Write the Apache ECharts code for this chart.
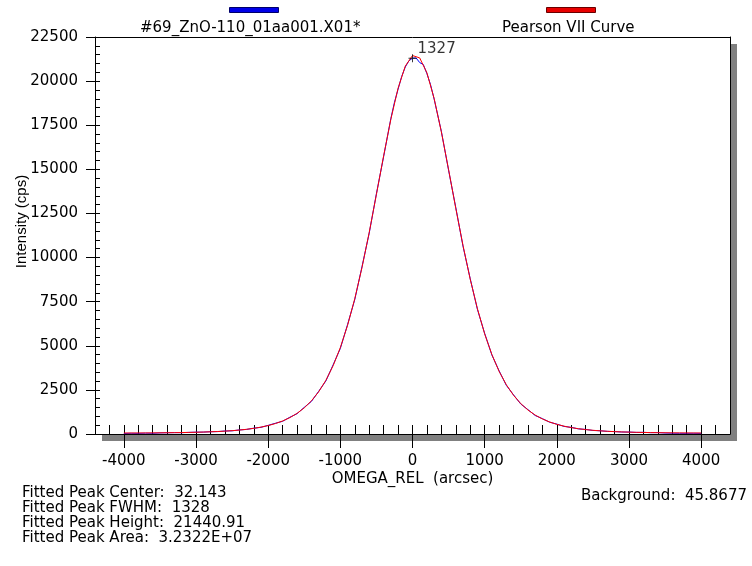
<!DOCTYPE html>
<html>
<head>
<meta charset="utf-8">
<script src="https://cdn.jsdelivr.net/npm/echarts@6/dist/echarts.min.js"></script>
<style>
  html, body { margin: 0; padding: 0; background: #fff; }
  #chart { width: 752px; height: 566px; }
</style>
</head>
<body>
<div id="chart"></div>
<script>
// Rocking-curve scan and its Pearson VII fit
const scanName = '#69_ZnO-110_01aa001.X01*';
const fitName = 'Pearson VII Curve';

const scanOmega = [
  -4000, -3900, -3800, -3700, -3600, -3500, -3400, -3300, -3200, -3100,
  -3000, -2900, -2800, -2700, -2600, -2500, -2400, -2300, -2200, -2100,
  -2000, -1900, -1800, -1700, -1600, -1500, -1400, -1300, -1200, -1100,
  -1000, -900, -800, -700, -600, -500, -400,
  -300, -250, -200, -150, -100, -50, 0, 50, 100, 150, 200, 250, 300,
  400, 500, 600, 700, 800, 900, 1000, 1100, 1200, 1300,
  1400, 1500, 1600, 1700, 1800, 1900, 2000, 2100, 2200, 2300,
  2400, 2500, 2600, 2700, 2800, 2900, 3000, 3100, 3200, 3300,
  3400, 3500, 3600, 3700, 3800, 3900, 4000
];
const scanIntensity = [
  30, 42, 35, 48, 40, 62, 70, 78, 75, 92,
  104, 108, 130, 136, 170, 180, 230, 258, 330, 378,
  490, 610, 720, 950, 1150, 1510, 1850, 2420, 3010, 3920,
  4850, 6200, 7620, 9480, 11380, 13620, 15720,
  17880, 18800, 19540, 20260, 20800, 21150, 21300, 21310, 21050, 20940, 20420, 19800, 18980,
  17150, 14950, 12830, 10640, 8800, 7060, 5700, 4480, 3580, 2760,
  2220, 1700, 1380, 1050, 870, 670, 560, 430, 375, 290,
  260, 200, 185, 148, 138, 112, 110, 90, 95, 76,
  80, 55, 45, 40, 38, 42, 35
];

const fitOmega = [
  -4000, -3900, -3800, -3700, -3600, -3500, -3400, -3300, -3200, -3100,
  -3000, -2900, -2800, -2700, -2600, -2500, -2400, -2300, -2200, -2100,
  -2000, -1900, -1800, -1700, -1600, -1500, -1400, -1300, -1200, -1100,
  -1000, -900, -800, -700, -600, -500, -400, -300, -200, -100,
  0, 100, 200, 300, 400, 500, 600, 700, 800, 900,
  1000, 1100, 1200, 1300, 1400, 1500, 1600, 1700, 1800, 1900,
  2000, 2100, 2200, 2300, 2400, 2500, 2600, 2700, 2800, 2900,
  3000, 3100, 3200, 3300, 3400, 3500, 3600, 3700, 3800, 3900, 4000
];
const fitIntensity = [
  56, 57, 59, 61, 64, 67, 72, 76, 82, 90,
  99, 110, 124, 141, 162, 189, 223, 266, 320, 390,
  478, 592, 738, 926, 1169, 1480, 1881, 2394, 3047, 3871,
  4897, 6156, 7667, 9433, 11426, 13576, 15767, 17838, 19596, 20850,
  21449, 21315, 20467, 19011, 17118, 14983, 12790, 10686, 8769, 7094,
  5675, 4502, 3552, 2794, 2195, 1725, 1359, 1074, 853, 681,
  548, 444, 363, 299, 249, 210, 179, 154, 134, 118,
  106, 95, 87, 80, 75, 70, 66, 63, 61, 58, 57
];

const peakPoint = [0, 21300];
const peakLabel = '1327';

const xMajorTicks = [-4000, -3000, -2000, -1000, 0, 1000, 2000, 3000, 4000];
const yMajorStep = 2500;

const fitSummary = [
  'Fitted Peak Center:  32.143',
  'Fitted Peak FWHM:  1328',
  'Fitted Peak Height:  21440.91',
  'Fitted Peak Area:  3.2322E+07'
];
const backgroundText = 'Background:  45.8677';

const FONT = 'DejaVu Sans';
const zip = (xs, ys) => xs.map((x, i) => [x, ys[i]]);

const chart = echarts.init(document.getElementById('chart'), null, { renderer: 'canvas' });

const xBase = {
  type: 'value', min: -4400, max: 4400,
  splitLine: { show: false }
};
const yBase = {
  type: 'value', min: 0, max: 22500,
  splitLine: { show: false }
};
const blackLine = { show: true, onZero: false, lineStyle: { color: '#000', width: 1 } };
const noLine = { show: false, onZero: false };

chart.setOption({
  animation: false,
  backgroundColor: '#fff',
  // plot frame with its drop shadow; the frame lines come from the axes
  grid: {
    left: 95, right: 22, top: 37, bottom: 132,
    outerBoundsMode: 'none', containLabel: false,
    show: true, backgroundColor: '#fff', borderWidth: 0,
    shadowColor: '#808080', shadowBlur: 0, shadowOffsetX: 7, shadowOffsetY: 7
  },
  title: [
    {
      text: fitSummary.join('\n'), left: 22, top: 485, padding: 0,
      textStyle: { fontFamily: FONT, fontSize: 15, fontWeight: 'normal', color: '#000', lineHeight: 15.3 }
    },
    {
      text: backgroundText, right: 5, top: 489, padding: 0,
      textStyle: { fontFamily: FONT, fontSize: 15, fontWeight: 'normal', color: '#000' }
    }
  ],
  graphic: [
    { type: 'rect', left: 229, top: 7, shape: { width: 49, height: 5 },
      style: { fill: '#0000e8', stroke: '#00006a', lineWidth: 1 } },
    { type: 'text', top: 21, left: 140,
      style: { text: scanName, font: '15px "DejaVu Sans"', fill: '#000' } },
    { type: 'rect', left: 546, top: 7, shape: { width: 49, height: 5 },
      style: { fill: '#e80000', stroke: '#6a0000', lineWidth: 1 } },
    { type: 'text', top: 21, left: 502,
      style: { text: fitName, font: '15px "DejaVu Sans"', fill: '#000' } }
  ],
  xAxis: [
    Object.assign({}, xBase, {
      position: 'bottom',
      interval: 200,
      axisLine: blackLine,
      axisTick: { show: true, inside: true, length: 9, lineStyle: { color: '#000' } },
      axisLabel: {
        margin: 20, color: '#000', fontFamily: FONT, fontSize: 15,
        formatter: v => (xMajorTicks.indexOf(v) >= 0 ? String(v) : '')
      },
      name: 'OMEGA_REL  (arcsec)', nameLocation: 'middle', nameGap: 38,
      nameMoveOverlap: false,
      nameTextStyle: { color: '#000', fontFamily: FONT, fontSize: 15 }
    }),
    Object.assign({}, xBase, {
      position: 'bottom',
      axisLine: noLine,
      axisTick: { show: true, inside: false, length: 14, customValues: xMajorTicks, lineStyle: { color: '#000' } },
      axisLabel: { show: false }
    }),
    Object.assign({}, xBase, {
      position: 'top',
      axisLine: blackLine,
      axisTick: { show: false },
      axisLabel: { show: false }
    })
  ],
  yAxis: [
    Object.assign({}, yBase, {
      position: 'left',
      interval: 500,
      axisLine: blackLine,
      axisTick: { show: true, inside: true, length: 5, lineStyle: { color: '#000' } },
      axisLabel: {
        margin: 17, color: '#000', fontFamily: FONT, fontSize: 15,
        formatter: v => (v % yMajorStep === 0 ? String(v) : '')
      },
      name: 'Intensity (cps)', nameLocation: 'middle', nameGap: 66,
      nameMoveOverlap: false,
      nameTextStyle: { color: '#000', fontFamily: 'Liberation Sans', fontSize: 15, padding: [0, 0, 0, 28] }
    }),
    Object.assign({}, yBase, {
      position: 'left',
      interval: yMajorStep,
      axisLine: noLine,
      axisTick: { show: true, inside: false, length: 9, lineStyle: { color: '#000' } },
      axisLabel: { show: false }
    }),
    Object.assign({}, yBase, {
      position: 'right',
      axisLine: blackLine,
      axisTick: { show: false },
      axisLabel: { show: false }
    })
  ],
  series: [
    {
      name: scanName, type: 'line', xAxisIndex: 0, yAxisIndex: 0,
      data: zip(scanOmega, scanIntensity), symbol: 'none',
      lineStyle: { color: '#0000ff', width: 1 }, z: 3
    },
    {
      name: fitName, type: 'line', xAxisIndex: 0, yAxisIndex: 0,
      data: zip(fitOmega, fitIntensity), symbol: 'none',
      lineStyle: { color: '#ff0000', width: 1 }, z: 4
    },
    {
      type: 'scatter', xAxisIndex: 0, yAxisIndex: 0, z: 5,
      data: [peakPoint],
      symbol: 'path://M4.4,0H5.6V10H4.4ZM0,4.4H10V5.6H0Z', symbolSize: 8,
      itemStyle: { color: '#000' },
      label: {
        show: true, position: 'right', distance: 1, offset: [0, -9],
        formatter: () => peakLabel,
        color: '#000', fontFamily: FONT, fontSize: 15
      }
    }
  ]
});
</script>
</body>
</html>
